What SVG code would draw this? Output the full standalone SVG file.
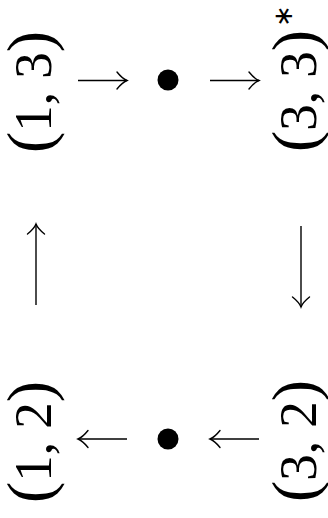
<svg xmlns="http://www.w3.org/2000/svg" width="328" height="518" viewBox="0 0 328 518">
  <style>
    .lbl { font-family: "Liberation Serif", "Times New Roman", serif; font-size: 53px; fill: #000; }
    .par { font-size: 64px; }
    .ast { font-family: "DejaVu Sans", sans-serif; font-size: 26px; fill: #000; }
    .edge { stroke: #000; stroke-width: 1.4; fill: none; marker-end: url(#head); }
    .dot { fill: #000; }
  </style>
  <defs>
    <marker id="head" markerUnits="userSpaceOnUse" viewBox="-12 -10 14 20" markerWidth="14" markerHeight="20" refX="0" refY="0" orient="auto" overflow="visible">
      <path d="M-10,-8.5 C-6,-3.5 -2.5,-1 0,0 C-2.5,1 -6,3.5 -10,8.5" fill="none" stroke="#000" stroke-width="1.4" stroke-linecap="round"/>
    </marker>
  </defs>

  <g id="n13">
    <text class="lbl" transform="translate(51,92) rotate(-90)" text-anchor="middle"><tspan class="par">(</tspan>1, 3<tspan class="par">)</tspan></text>
  </g>
  <g id="ntop">
    <circle class="dot" cx="168" cy="80" r="10.5"/>
  </g>
  <g id="n33">
    <text class="lbl" transform="translate(316,91) rotate(-90)" text-anchor="middle"><tspan class="par">(</tspan>3, 3<tspan class="par">)</tspan></text>
    <text class="ast" transform="translate(283,16) rotate(-90)" text-anchor="middle" dominant-baseline="central">∗</text>
  </g>
  <g id="n12">
    <text class="lbl" transform="translate(51,442) rotate(-90)" text-anchor="middle"><tspan class="par">(</tspan>1, 2<tspan class="par">)</tspan></text>
  </g>
  <g id="nbot">
    <circle class="dot" cx="168" cy="439" r="10.5"/>
  </g>
  <g id="n32">
    <text class="lbl" transform="translate(316,441) rotate(-90)" text-anchor="middle"><tspan class="par">(</tspan>3, 2<tspan class="par">)</tspan></text>
  </g>

  <g id="connectors">
    <path class="edge" d="M78,80.5 H127"/>
    <path class="edge" d="M210,80.5 H259"/>
    <path class="edge" d="M301,226 V307"/>
    <path class="edge" d="M259,439 H210"/>
    <path class="edge" d="M127,439 H78"/>
    <path class="edge" d="M36,305 V224"/>
  </g>
</svg>
